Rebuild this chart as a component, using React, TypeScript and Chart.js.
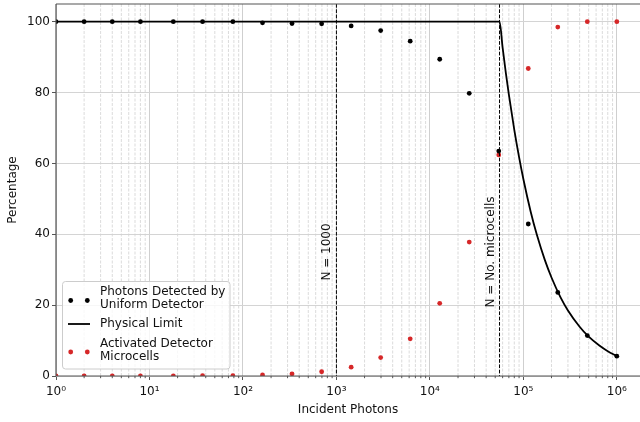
import React, { useEffect, useRef } from 'react';
import { Chart, registerables } from 'chart.js';

Chart.register(...registerables);

// ---- data ----
const incidentPhotons = [1, 2, 4, 8, 18, 37, 78, 162, 335, 695, 1438, 2976, 6158, 12742, 26366, 54555, 112883, 233572, 483293, 1000000];
const detectedPct = [100, 100, 100, 100, 100, 100, 100, 99.7, 99.5, 99.4, 98.8, 97.5, 94.5, 89.4, 79.8, 63.5, 42.9, 23.6, 11.4, 5.6];
const activatedPct = [0, 0, 0, 0, 0, 0.1, 0.1, 0.3, 0.6, 1.2, 2.5, 5.2, 10.5, 20.5, 37.8, 62.4, 86.8, 98.5, 100, 100];

const limitPhotons = [1, 55600, 60000, 65000, 70000, 80000, 90000, 100000, 120000, 140000, 170000, 200000, 250000, 300000, 400000, 500000, 650000, 800000, 1000000];
const limitPct = [100, 100, 92.7, 85.5, 79.4, 69.5, 61.8, 55.6, 46.3, 39.7, 32.7, 27.8, 22.2, 18.5, 13.9, 11.1, 8.6, 7.0, 5.6];

const refLineValues = [1000, 55600];
const refLineLabels = ['N = 1000', 'N = No. microcells'];

const yTickValues = [0, 20, 40, 60, 80, 100];
const seriesLabels = [
  ['Photons Detected by', 'Uniform Detector'],
  ['Physical Limit'],
  ['Activated Detector', 'Microcells'],
];
const xTitle = 'Incident Photons';
const yTitle = 'Percentage';

const X_MIN = 1;
const X_MAX = 1.77e6;
const Y_MIN = 0;
const Y_MAX = 105;

const FONT = "'DejaVu Sans', 'Liberation Sans', sans-serif";
const RED = '#d62728';
const SPINE = '#555555';
const SUP = ['⁰', '¹', '²', '³', '⁴', '⁵', '⁶', '⁷', '⁸', '⁹'];

function isPow10(v: number) {
  const l = Math.log10(v);
  return Math.abs(l - Math.round(l)) < 1e-9;
}

export default function App() {
  const ref = useRef<HTMLCanvasElement>(null);

  useEffect(() => {
    const canvas = ref.current!;
    const xTickValues: number[] = [];
    for (let d = 0; d <= 7; d++) {
      for (let m = 1; m <= 9; m++) {
        const v = m * Math.pow(10, d);
        if (v >= X_MIN && v <= X_MAX) xTickValues.push(v);
      }
    }

    const decor = {
      id: 'decor',
      beforeDatasetsDraw(chart: any) {
        const { ctx, chartArea: a, scales } = chart;
        const x = scales.x;
        ctx.save();
        ctx.beginPath();
        ctx.rect(a.left, a.top, a.right - a.left, a.bottom - a.top);
        ctx.clip();
        ctx.strokeStyle = '#d2d2d2';
        ctx.lineWidth = 0.8;
        ctx.setLineDash([3, 1.5]);
        ctx.beginPath();
        for (const v of xTickValues) {
          if (isPow10(v)) continue;
          const px = x.getPixelForValue(v);
          ctx.moveTo(px, a.top);
          ctx.lineTo(px, a.bottom);
        }
        ctx.stroke();
        ctx.restore();
      },
      afterDatasetsDraw(chart: any) {
        const { ctx, chartArea: a, scales } = chart;
        const x = scales.x;
        const y = scales.y;
        ctx.save();

        // reference dashed lines + rotated labels
        for (let i = 0; i < refLineValues.length; i++) {
          const v = refLineValues[i];
          const px = x.getPixelForValue(v);
          ctx.strokeStyle = '#000';
          ctx.lineWidth = 1;
          ctx.setLineDash([3.7, 1.6]);
          ctx.beginPath();
          ctx.moveTo(px, a.top);
          ctx.lineTo(px, a.bottom);
          ctx.stroke();
          ctx.setLineDash([]);
          const tx = x.getPixelForValue(v * 0.8);
          const ty = y.getPixelForValue(35);
          ctx.save();
          ctx.translate(tx, ty);
          ctx.rotate(-Math.PI / 2);
          ctx.fillStyle = '#111';
          ctx.font = `12px ${FONT}`;
          ctx.textAlign = 'center';
          ctx.textBaseline = 'middle';
          ctx.fillText(refLineLabels[i], 0, 0);
          ctx.restore();
        }

        // spines
        ctx.setLineDash([]);
        ctx.strokeStyle = SPINE;
        ctx.lineWidth = 1.2;
        ctx.beginPath();
        ctx.moveTo(a.left, a.top);
        ctx.lineTo(a.right, a.top);
        ctx.moveTo(a.left, a.top);
        ctx.lineTo(a.left, a.bottom);
        ctx.lineTo(a.right, a.bottom);
        ctx.stroke();

        // minor x ticks
        ctx.lineWidth = 1;
        ctx.beginPath();
        for (const v of xTickValues) {
          if (isPow10(v)) continue;
          const px = x.getPixelForValue(v);
          ctx.moveTo(px, a.bottom);
          ctx.lineTo(px, a.bottom + 2.2);
        }
        ctx.stroke();

        // legend
        const lx = 62.5, ly = 281.5, lw = 167.5, lh = 87.5;
        ctx.beginPath();
        (ctx as any).roundRect(lx, ly, lw, lh, 3);
        ctx.fillStyle = 'rgba(255,255,255,0.8)';
        ctx.fill();
        ctx.strokeStyle = '#cccccc';
        ctx.lineWidth = 1;
        ctx.stroke();

        ctx.font = `12px ${FONT}`;
        ctx.textAlign = 'left';
        ctx.textBaseline = 'middle';
        const textX = 100;
        const rows = [
          { lines: seriesLabels[0], y0: 291.7, kind: 'dot', color: '#000', my: 300.5 },
          { lines: seriesLabels[1], y0: 324, kind: 'line', color: '#000', my: 324 },
          { lines: seriesLabels[2], y0: 343.5, kind: 'dot', color: RED, my: 352 },
        ];
        for (const r of rows) {
          r.lines.forEach((t, k) => {
            ctx.fillStyle = '#111';
            ctx.fillText(t, textX, r.y0 + k * 13);
          });
          if (r.kind === 'dot') {
            ctx.fillStyle = r.color;
            for (const dx of [70.7, 87.3]) {
              ctx.beginPath();
              ctx.arc(dx, r.my, 2.4, 0, Math.PI * 2);
              ctx.fill();
            }
          } else {
            ctx.strokeStyle = r.color;
            ctx.lineWidth = 1.8;
            ctx.beginPath();
            ctx.moveTo(68, r.my);
            ctx.lineTo(90, r.my);
            ctx.stroke();
          }
        }
        ctx.restore();
      },
    };

    const chart = new Chart(canvas, {
      type: 'scatter',
      data: {
        datasets: [
          {
            label: seriesLabels[0].join(' '),
            data: incidentPhotons.map((v, i) => ({ x: v, y: detectedPct[i] })),
            backgroundColor: '#000',
            borderColor: '#000',
            pointRadius: 2.4,
            pointBorderWidth: 0,
            order: 0,
          },
          {
            label: seriesLabels[1].join(' '),
            data: limitPhotons.map((v, i) => ({ x: v, y: limitPct[i] })),
            showLine: true,
            borderColor: '#000',
            backgroundColor: '#000',
            borderWidth: 1.8,
            pointRadius: 0,
            cubicInterpolationMode: 'monotone',
            order: 1,
          } as any,
          {
            label: seriesLabels[2].join(' '),
            data: incidentPhotons.map((v, i) => ({ x: v, y: activatedPct[i] })),
            backgroundColor: RED,
            borderColor: RED,
            pointRadius: 2.4,
            pointBorderWidth: 0,
            order: 2,
          },
        ],
      },
      options: {
        responsive: false,
        animation: false,
        devicePixelRatio: 1,
        layout: { autoPadding: false, padding: { top: 4, left: 0, right: 0, bottom: 0 } },
        plugins: {
          legend: { display: false },
          tooltip: { enabled: false },
        },
        scales: {
          x: {
            type: 'logarithmic',
            min: X_MIN,
            max: X_MAX,
            afterBuildTicks: (scale: any) => {
              scale.ticks = xTickValues.map((v) => ({ value: v, major: isPow10(v) }));
            },
            afterFit: (scale: any) => {
              scale.height = 46;
              scale.paddingLeft = 0;
              scale.paddingRight = 0;
            },
            border: { display: false },
            grid: {
              color: (c: any) => (c.tick && c.tick.major ? '#cfcfcf' : 'rgba(0,0,0,0)'),
              tickColor: (c: any) => (c.tick && c.tick.major ? SPINE : 'rgba(0,0,0,0)'),
              lineWidth: 1,
              tickLength: 4,
              tickWidth: 1,
            },
            ticks: {
              autoSkip: false,
              maxRotation: 0,
              minRotation: 0,
              padding: 5,
              color: '#111',
              font: { family: FONT, size: 12 },
              callback: (v: any) => {
                const n = Number(v);
                if (!isPow10(n)) return '';
                const e = Math.round(Math.log10(n));
                return '10' + SUP[e];
              },
            },
            title: {
              display: true,
              text: xTitle,
              color: '#111',
              font: { family: FONT, size: 12 },
              padding: { top: 0, bottom: 5 },
            },
          },
          y: {
            type: 'linear',
            min: Y_MIN,
            max: Y_MAX,
            afterBuildTicks: (scale: any) => {
              scale.ticks = yTickValues.map((v) => ({ value: v }));
            },
            afterFit: (scale: any) => {
              scale.width = 56;
              scale.paddingTop = 0;
              scale.paddingBottom = 0;
            },
            border: { display: false },
            grid: {
              color: '#d4d4d4',
              tickColor: SPINE,
              lineWidth: 1,
              tickLength: 4,
            },
            ticks: {
              padding: 2,
              color: '#111',
              font: { family: FONT, size: 12 },
            },
            title: {
              display: true,
              text: yTitle,
              color: '#111',
              font: { family: FONT, size: 12 },
              padding: { top: 6, bottom: 0 },
            },
          },
        },
      },
      plugins: [decor],
    } as any);

    return () => chart.destroy();
  }, []);

  return (
    <div style={{ position: 'fixed', left: 0, top: 0, width: 640, height: 422, background: '#fff' }}>
      <canvas ref={ref} width={640} height={422} style={{ width: 640, height: 422, display: 'block' }} />
    </div>
  );
}
